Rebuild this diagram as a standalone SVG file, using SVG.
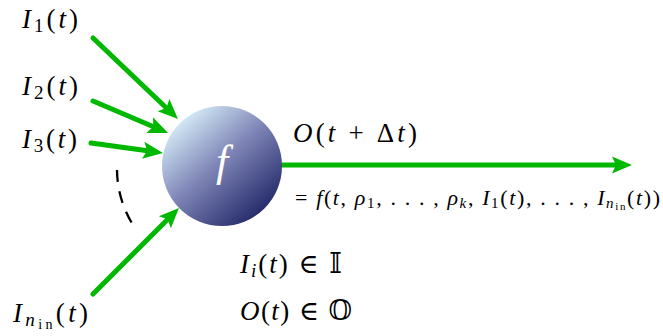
<svg xmlns="http://www.w3.org/2000/svg" width="663" height="336" viewBox="0 0 663 336">
<style>
.m{font-family:"Liberation Serif","DejaVu Serif",serif;font-size:27px;fill:#000}
.s{font-family:"Liberation Serif","DejaVu Serif",serif;font-size:22px;fill:#000}
.i{font-style:italic}
.c{fill:none;stroke:#00b800;stroke-width:5;stroke-linecap:round}
.bb{font-family:"DejaVu Serif","DejaVu Sans",serif}
</style>
<defs>
<linearGradient id="g" x1="0.15" y1="0.1" x2="0.85" y2="0.9">
<stop offset="0" stop-color="#d6edf8"/>
<stop offset="0.45" stop-color="#8188b8"/>
<stop offset="1" stop-color="#222768"/>
</linearGradient>
<marker id="a" markerUnits="userSpaceOnUse" viewBox="-10 -10 24 20" markerWidth="24" markerHeight="20" refX="0" refY="0" orient="auto">
<path d="M12,0 L-8,-8.5 L-4,0 L-8,8.5 Z" fill="#00b800"/>
</marker>
</defs>
<g id="connectors">
<path class="c" d="M93,38 L169.3,110.7" marker-end="url(#a)"/>
<path class="c" d="M93,101 L157,128.3" marker-end="url(#a)"/>
<path class="c" d="M91,143 L151.1,151.3" marker-end="url(#a)"/>
<path class="c" d="M93,294 L170.5,216.5" marker-end="url(#a)"/>
<path class="c" d="M282,165 L620,165" marker-end="url(#a)"/>
<path d="M117,170 A105,105 0 0 0 135,228" fill="none" stroke="#000" stroke-width="2.3" stroke-dasharray="12,9.5"/>
</g>
<g id="node-f">
<circle cx="222" cy="166" r="60" fill="url(#g)"/>
<text x="222" y="176" text-anchor="middle" font-family="Liberation Serif,serif" font-style="italic" font-size="44" fill="#fff">f</text>
</g>
<g id="label-i1"><text class="m" x="22" y="28" textLength="56" lengthAdjust="spacing"><tspan class="i">I</tspan><tspan font-size="19" dy="4">1</tspan><tspan dy="-4">(</tspan><tspan class="i">t</tspan>)</text></g>
<g id="label-i2"><text class="m" x="22" y="95" textLength="56" lengthAdjust="spacing"><tspan class="i">I</tspan><tspan font-size="19" dy="4">2</tspan><tspan dy="-4">(</tspan><tspan class="i">t</tspan>)</text></g>
<g id="label-i3"><text class="m" x="22" y="148" textLength="55" lengthAdjust="spacing"><tspan class="i">I</tspan><tspan font-size="19" dy="4">3</tspan><tspan dy="-4">(</tspan><tspan class="i">t</tspan>)</text></g>
<g id="label-in"><text class="m" x="13" y="322" textLength="75" lengthAdjust="spacing"><tspan class="i">I</tspan><tspan class="i" font-size="19" dy="4">n</tspan><tspan font-size="14" dy="3">in</tspan><tspan dy="-7">(</tspan><tspan class="i">t</tspan>)</text></g>
<g id="label-out"><text class="m" x="293" y="142" textLength="124" lengthAdjust="spacing"><tspan class="i">O</tspan>(<tspan class="i">t</tspan> + Δ<tspan class="i">t</tspan>)</text></g>
<g id="label-eq"><text class="s" x="295" y="205" textLength="365" lengthAdjust="spacing">= <tspan class="i">f</tspan>(<tspan class="i">t</tspan>, <tspan class="i">ρ</tspan><tspan font-size="15" dy="3">1</tspan><tspan dy="-3">, . . . , </tspan><tspan class="i">ρ</tspan><tspan class="i" font-size="15" dy="3">k</tspan><tspan dy="-3">, </tspan><tspan class="i">I</tspan><tspan font-size="15" dy="3">1</tspan><tspan dy="-3">(</tspan><tspan class="i">t</tspan>), . . . , <tspan class="i">I</tspan><tspan class="i" font-size="15" dy="3">n</tspan><tspan font-size="11" dy="2">in</tspan><tspan dy="-5">(</tspan><tspan class="i">t</tspan>))</text></g>
<g id="label-set-i"><text class="m" x="240" y="273" textLength="102" lengthAdjust="spacing"><tspan class="i">I</tspan><tspan class="i" font-size="19" dy="4">i</tspan><tspan dy="-4">(</tspan><tspan class="i">t</tspan>) <tspan class="bb">∈</tspan> <tspan class="bb">𝕀</tspan></text></g>
<g id="label-set-o"><text class="m" x="240" y="320" textLength="112" lengthAdjust="spacing"><tspan class="i">O</tspan>(<tspan class="i">t</tspan>) <tspan class="bb">∈</tspan> <tspan class="bb">𝕆</tspan></text></g>
</svg>
